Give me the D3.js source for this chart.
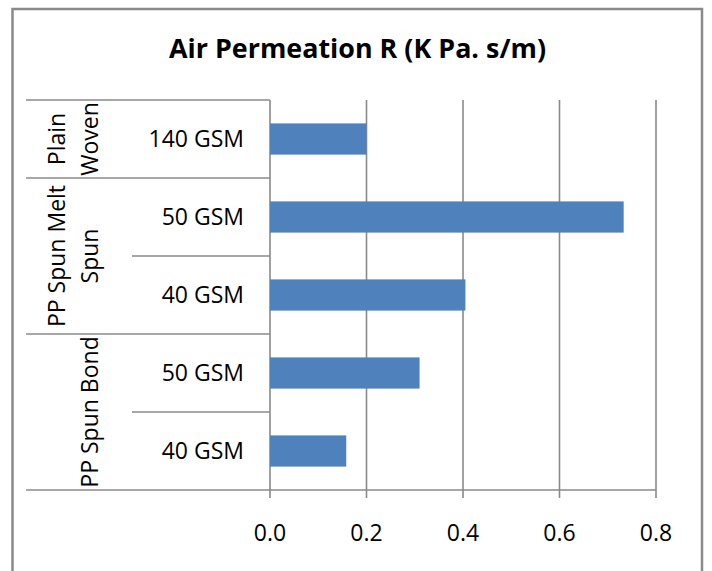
<!DOCTYPE html>
<html>
<head>
<meta charset="utf-8">
<script src="https://cdn.jsdelivr.net/npm/d3@7"></script>
<style>
  body { margin: 0; background: #fff; }
  text { font-family: "Open Sans", "Noto Sans", sans-serif; fill: #000; }
</style>
</head>
<body>
<div id="chart"></div>
<script>
// data, top row first
const title = 'Air Permeation R (K Pa. s/m)';
const categories = ['140 GSM', '50 GSM', '40 GSM', '50 GSM', '40 GSM'];
const groupIndex = [0, 1, 1, 2, 2];
const groupLabels = [['Plain', 'Woven'], ['PP Spun Melt', 'Spun'], ['PP Spun Bond']];
const values = [0.2, 0.733, 0.405, 0.31, 0.158];
const tickValues = [0, 0.2, 0.4, 0.6, 0.8];

const width = 712, height = 571;
const plot = { left: 270, right: 656, top: 100, bottom: 490 };
const gridColor = '#8a8a8a';

const svg = d3.select('#chart').append('svg')
    .attr('width', width)
    .attr('height', height);

// outer chart border, bottom runs off the picture
svg.append('rect')
    .attr('x', 12.5).attr('y', 9)
    .attr('width', 689.5).attr('height', 600)
    .attr('fill', 'none')
    .attr('stroke', gridColor)
    .attr('stroke-width', 2.5);

svg.append('text')
    .text(title)
    .attr('x', 357.5)
    .attr('y', 58)
    .attr('text-anchor', 'middle')
    .attr('font-weight', 'bold')
    .attr('font-size', 27)
    .attr('textLength', 377)
    .attr('lengthAdjust', 'spacingAndGlyphs');

let x = d3.scaleLinear().domain([0, 0.8]).range([plot.left, plot.right]);
let y = d3.scaleBand()
    .domain(d3.range(categories.length))
    .range([plot.top, plot.bottom])
    .paddingInner(0.6)
    .paddingOuter(0.3);
let step = y.step();

// vertical gridlines with ticks hanging below the axis
svg.append('g')
    .selectAll('line')
    .data(tickValues)
    .enter().append('line')
    .attr('x1', d => x(d)).attr('x2', d => x(d))
    .attr('y1', plot.top).attr('y2', plot.bottom + 8)
    .attr('stroke', gridColor)
    .attr('stroke-width', 1.6);

svg.append('line')
    .attr('x1', plot.left).attr('x2', plot.right)
    .attr('y1', plot.bottom).attr('y2', plot.bottom)
    .attr('stroke', gridColor)
    .attr('stroke-width', 1.6);

svg.append('g')
    .selectAll('text')
    .data(tickValues)
    .enter().append('text')
    .text(d3.format('.1f'))
    .attr('x', d => x(d))
    .attr('y', 541)
    .attr('text-anchor', 'middle')
    .attr('font-size', 23);

// category dividers: full width between groups, short inside a group
let dividers = d3.range(categories.length + 1).map(i => ({
    y: plot.top + i * step,
    outer: i === 0 || i === categories.length || groupIndex[i] !== groupIndex[i - 1]
}));

svg.append('g')
    .selectAll('line')
    .data(dividers)
    .enter().append('line')
    .attr('x1', d => d.outer ? 26 : 132)
    .attr('x2', plot.left)
    .attr('y1', d => d.y).attr('y2', d => d.y)
    .attr('stroke', gridColor)
    .attr('stroke-width', 1.6);

svg.append('g')
    .selectAll('rect')
    .data(values)
    .enter().append('rect')
    .attr('x', x(0))
    .attr('y', (d, i) => y(i))
    .attr('width', d => x(d) - x(0))
    .attr('height', y.bandwidth())
    .attr('fill', '#4f81bd');

svg.append('g')
    .selectAll('text')
    .data(categories)
    .enter().append('text')
    .text(d => d)
    .attr('x', 244)
    .attr('y', (d, i) => y(i) + y.bandwidth() / 2)
    .attr('dy', '0.35em')
    .attr('text-anchor', 'end')
    .attr('font-size', 23);

// rotated group names, centred on their rows
groupLabels.forEach((lines, g) => {
    let rows = d3.range(categories.length).filter(i => groupIndex[i] === g);
    let cy = plot.top + (rows[0] + rows.length / 2) * step;
    let xs = lines.length === 2 ? [57, 90] : [90];
    lines.forEach((line, k) => {
        svg.append('text')
            .text(line)
            .attr('transform', `translate(${xs[k]},${cy}) rotate(-90)`)
            .attr('dy', '0.35em')
            .attr('text-anchor', 'middle')
            .attr('font-size', 23);
    });
});
</script>
</body>
</html>
